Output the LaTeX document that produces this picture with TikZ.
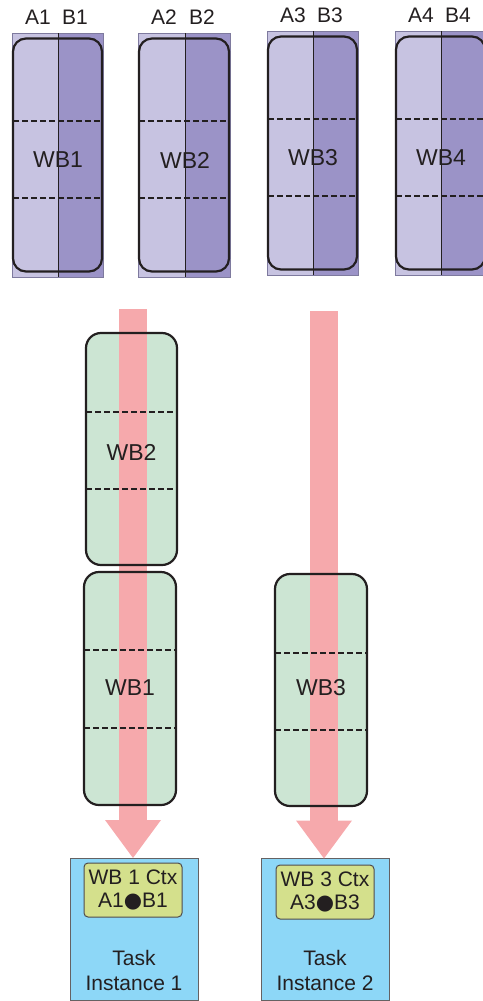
\documentclass[tikz,border=0pt]{standalone}
\usepackage{fontspec}
\setmainfont{Liberation Sans}
\newfontfamily\dotfont{DejaVu Sans}
\usetikzlibrary{arrows.meta}

\definecolor{lavlight}{HTML}{C7C3E1}
\definecolor{lavdark}{HTML}{9B93C7}
\definecolor{lavedge}{HTML}{7E7A9E}
\definecolor{wbgreen}{HTML}{CCE5D3}
\definecolor{flowpink}{HTML}{F6A9AC}
\definecolor{taskblue}{HTML}{8DD7F7}
\definecolor{ctxgreen}{HTML}{D4E08C}
\definecolor{ink}{HTML}{231F20}

\newcommand{\bigdot}{{\dotfont ●}}

\tikzset{
  lbl/.style={font=\fontsize{21}{23}\selectfont, text=ink, inner sep=0pt},
  wblbl/.style={font=\fontsize{23}{25}\selectfont, text=ink, inner sep=0pt},
  wbbox/.style={rectangle, rounded corners=13pt, draw=ink, line width=2.2pt, inner sep=0pt, outer sep=0pt},
  wbfill/.style={rectangle, fill=wbgreen, rounded corners=15pt, inner sep=0pt, outer sep=0pt},
  wbedge/.style={draw=ink, line width=2.2pt, rounded corners=15pt},
  rowcut/.style={draw=ink, line width=2pt, dash pattern=on 6pt off 3pt},
  flow/.style={draw=flowpink, line width=28pt, -{Triangle[width=56pt,length=38pt,line width=0pt]}},
  taskbox/.style={rectangle, fill=taskblue, draw=ink!70, line width=1pt, inner sep=0pt, outer sep=0pt,
    minimum width=128pt, minimum height=142pt},
  ctxbox/.style={rectangle, fill=ctxgreen, draw=ink!80, line width=1pt, rounded corners=4pt,
    minimum width=98pt, minimum height=54pt, inner sep=0pt, outer sep=0pt, align=center,
    font=\fontsize{21}{23}\selectfont, text=ink},
}

\begin{document}
\begin{tikzpicture}[x=1pt,y=-1pt]
\useasboundingbox (0,0) rectangle (482,1001);

% ---- top row: four work buffers split into A and B halves ----
\foreach \n/\l/\d/\r/\t/\ly in {1/12/58/103/33/17, 2/138/185/230/33/17, 3/267/313/358/31/15, 4/395/441/486/31/15}{
  \fill[lavlight] (\l,\t) rectangle (\d,\t+244);
  \fill[lavdark] (\d,\t) rectangle (\r,\t+244);
  \draw[lavedge, line width=0.8pt] (\l,\t) rectangle (\r,\t+244);
  \draw[ink, line width=0.8pt] (\d,\t) -- (\d,\t+244);
  \node[wbbox, minimum width=\r-\l-2, minimum height=233] (top\n) at ({(\l+\r)/2},\t+122) {};
  \draw[rowcut] (top\n.west |- 0,\t+88) -- (top\n.east |- 0,\t+88);
  \draw[rowcut] (top\n.west |- 0,\t+165) -- (top\n.east |- 0,\t+165);
  \node[wblbl] (topname\n) at (\d,\t+127) {WB\n};
  \node[lbl] (a\n) at (\l+26,\ly) {A\n};
  \node[lbl] (b\n) at (\d+17,\ly) {B\n};
}

% ---- scheduled buffers (fills first, the flow runs across them) ----
\node[wbfill, minimum width=91pt, minimum height=232pt] (g2) at (131.5,449) {};
\node[wbfill, minimum width=92pt, minimum height=233pt] (g1) at (130,688.5) {};
\node[wbfill, minimum width=92pt, minimum height=232pt] (g3) at (321,690) {};

% ---- task instances ----
\node[taskbox] (t1) at (134,929) {};
\node[taskbox] (t2) at (325,929.5) {};

% ---- flows into the task instances ----
\coordinate (s1) at (133,309);
\coordinate (s2) at (324,311);
\draw[flow] (s1) -- (s1 |- t1.north);
\draw[flow] (s2) -- (s2 |- t2.north);

% ---- buffer outlines, row cuts and names ----
\foreach \g/\ca/\cb/\ty/\nm in {g2/412/489/452/WB2, g1/650/728/688/WB1, g3/653/730/688/WB3}{
  \draw[wbedge] (\g.north west) rectangle (\g.south east);
  \draw[rowcut] (\g.west |- 0,\ca) -- (\g.east |- 0,\ca);
  \draw[rowcut] (\g.west |- 0,\cb) -- (\g.east |- 0,\cb);
  \node[wblbl] (\g name) at (\g.center |- 0,\ty) {\nm};
}

% ---- contexts and task labels ----
\node[ctxbox] (c1) at (133,890) {WB 1 Ctx\\A1\bigdot B1};
\node[ctxbox] (c2) at (325,892) {WB 3 Ctx\\A3\bigdot B3};
\node[lbl, align=center, font=\fontsize{21}{25}\selectfont] (tl1) at (134,970) {Task\\Instance 1};
\node[lbl, align=center, font=\fontsize{21}{25}\selectfont] (tl2) at (325,970) {Task\\Instance 2};
\end{tikzpicture}
\end{document}
